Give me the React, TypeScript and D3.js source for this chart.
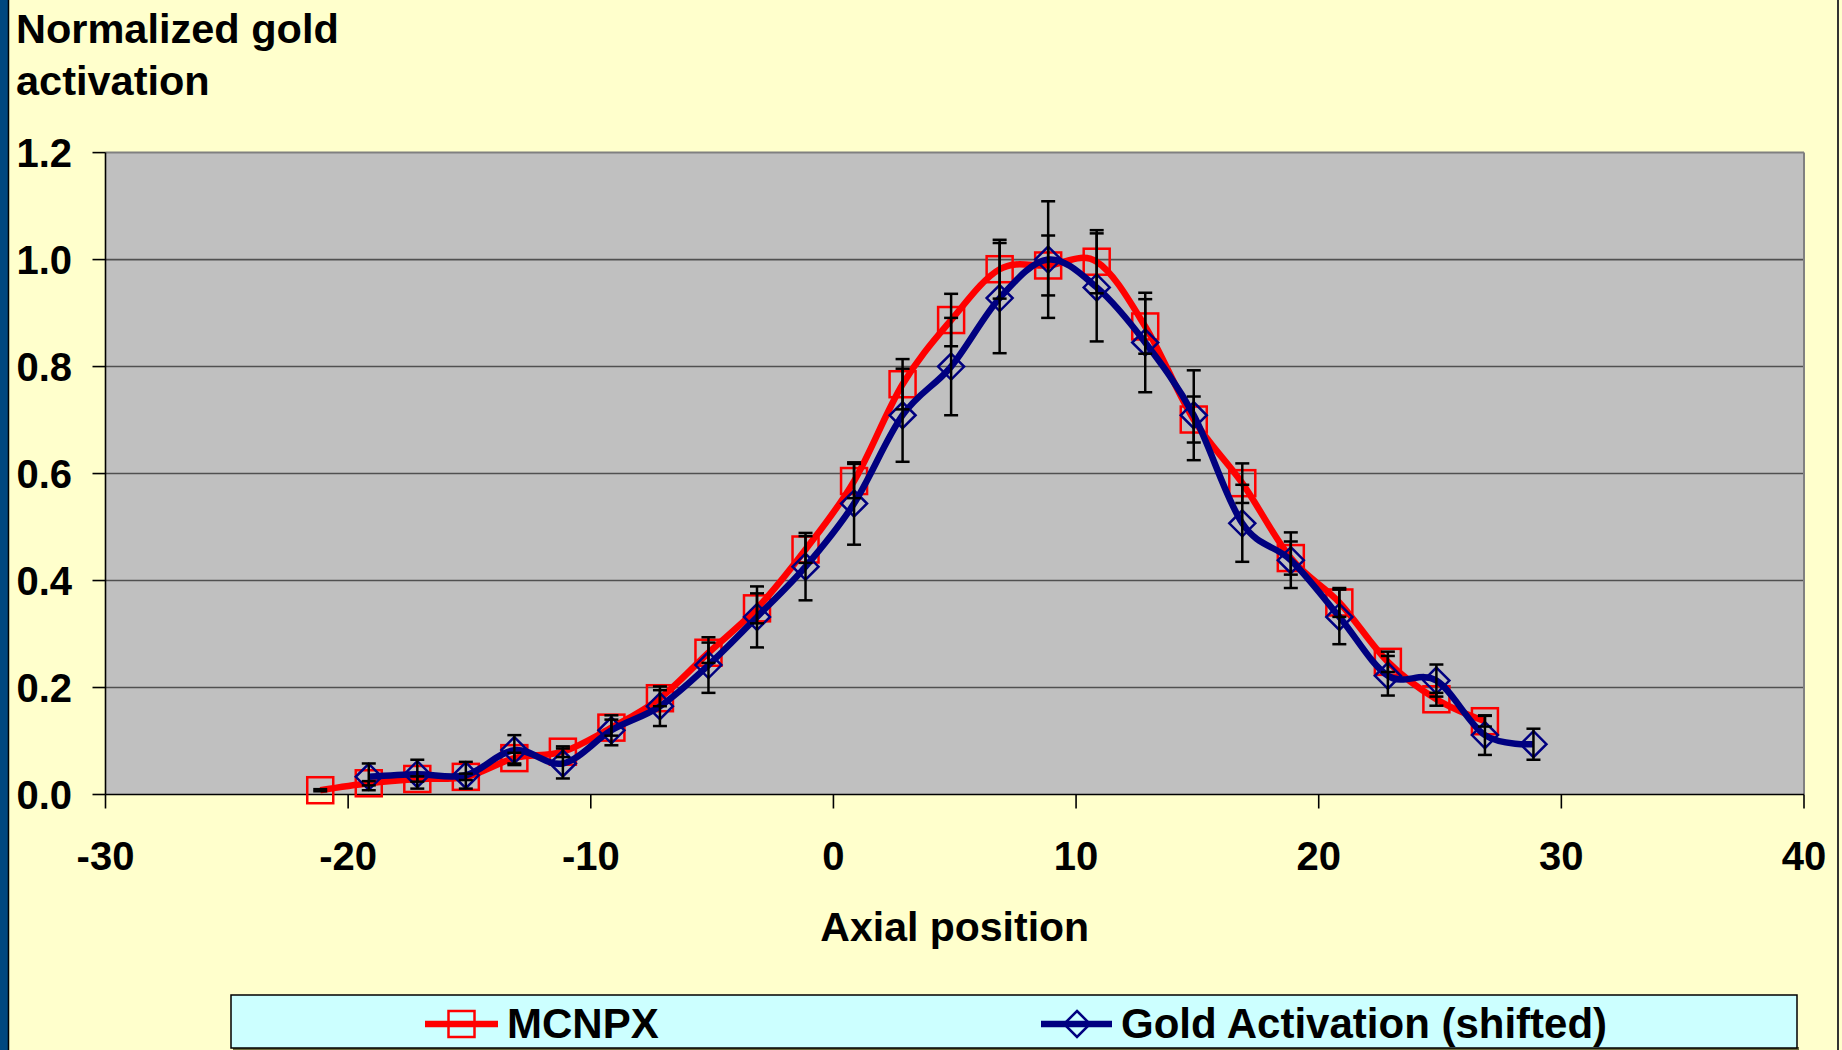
import React from 'react';
import * as d3 from 'd3';

const mcnpxX = [-21.15, -19.15, -17.15, -15.15, -13.15, -11.15, -9.15, -7.15, -5.15, -3.15, -1.15, 0.85, 2.85, 4.85, 6.85, 8.85, 10.85, 12.85, 14.85, 16.85, 18.85, 20.85, 22.85, 24.85, 26.85];
const mcnpxY = [0.008, 0.021, 0.029, 0.033, 0.068, 0.08, 0.125, 0.18, 0.265, 0.348, 0.458, 0.586, 0.767, 0.887, 0.982, 0.989, 0.996, 0.875, 0.701, 0.582, 0.442, 0.359, 0.248, 0.178, 0.137];
const mcnpxErr = [0.002, 0.004, 0.005, 0.006, 0.01, 0.01, 0.015, 0.015, 0.019, 0.028, 0.025, 0.032, 0.047, 0.049, 0.055, 0.056, 0.059, 0.051, 0.043, 0.037, 0.031, 0.027, 0.019, 0.012, 0.01];

const goldX = [-19.15, -17.15, -15.15, -13.15, -11.15, -9.15, -7.15, -5.15, -3.15, -1.15, 0.85, 2.85, 4.85, 6.85, 8.85, 10.85, 12.85, 14.85, 16.85, 18.85, 20.85, 22.85, 24.85, 26.85, 28.85];
const goldY = [0.033, 0.038, 0.036, 0.083, 0.058, 0.12, 0.165, 0.242, 0.332, 0.426, 0.544, 0.709, 0.8, 0.928, 1.0, 0.948, 0.845, 0.709, 0.507, 0.438, 0.332, 0.222, 0.213, 0.111, 0.094];
const goldErr = [0.025, 0.027, 0.025, 0.028, 0.028, 0.028, 0.037, 0.052, 0.057, 0.063, 0.077, 0.087, 0.091, 0.103, 0.109, 0.101, 0.093, 0.084, 0.072, 0.052, 0.051, 0.037, 0.03, 0.037, 0.029];

const xTicks = [-30, -20, -10, 0, 10, 20, 30, 40];
const yTicks = [0, 0.2, 0.4, 0.6, 0.8, 1.0, 1.2];

const seriesNames = ['MCNPX', 'Gold Activation (shifted)'];
const yTitleLines = ['Normalized gold', 'activation'];
const xTitle = 'Axial position';

const FONT = '"Liberation Sans", Arial, Helvetica, sans-serif';

export default function App() {
  React.useEffect(() => {
    document.body.style.margin = '0';
  }, []);

  const W = 1842;
  const H = 1050;
  const left = 105.5;
  const right = 1804;
  const top = 152.6;
  const bottom = 794.5;

  const x = d3.scaleLinear().domain([-30, 40]).range([left, right]);
  const y = d3.scaleLinear().domain([0, 1.2]).range([bottom, top]);

  const line = d3
    .line<[number, number]>()
    .x((d) => x(d[0]))
    .y((d) => y(d[1]))
    .curve(d3.curveCatmullRom.alpha(0));

  const redPts: [number, number][] = mcnpxX.map((v, i) => [v, mcnpxY[i]]);
  const bluePts: [number, number][] = goldX.map((v, i) => [v, goldY[i]]);

  const sq = 26;
  const dm = 13;

  const square = (cx: number, cy: number, key: string) => (
    <rect key={key} x={cx - sq / 2} y={cy - sq / 2} width={sq} height={sq} fill="none" stroke="#FF0000" strokeWidth={2.5} />
  );
  const diamond = (cx: number, cy: number, key: string) => (
    <path
      key={key}
      d={`M${cx},${cy - dm}L${cx + dm},${cy}L${cx},${cy + dm}L${cx - dm},${cy}Z`}
      fill="none"
      stroke="#000080"
      strokeWidth={2.5}
    />
  );

  const errBar = (xv: number, yv: number, e: number, key: string) => {
    const cx = x(xv);
    const y1 = y(yv + e);
    const y2 = y(yv - e);
    return (
      <g key={key} stroke="#000" strokeWidth={2.5}>
        <line x1={cx} x2={cx} y1={y1} y2={y2} />
        <line x1={cx - 7} x2={cx + 7} y1={y1} y2={y1} />
        <line x1={cx - 7} x2={cx + 7} y1={y2} y2={y2} />
      </g>
    );
  };

  return (
    <svg
      width={W}
      height={H}
      style={{ position: 'absolute', left: 0, top: 0, display: 'block' }}
      fontFamily={FONT}
    >
      <rect x={0} y={0} width={W} height={H} fill="#FFFFCC" />
      <rect x={0} y={0} width={8} height={H} fill="#00477F" />
      <line x1={8.5} x2={8.5} y1={0} y2={H} stroke="#000" strokeWidth={1.5} />
      <line x1={1838} x2={1838} y1={0} y2={H} stroke="#333" strokeWidth={2} />

      {/* Y title */}
      {yTitleLines.map((t, i) => (
        <text key={t} x={16} y={42.5 + i * 52} fontSize={41.5} fontWeight="bold" fill="#000">
          {t}
        </text>
      ))}

      {/* plot area */}
      <rect x={left} y={top} width={right - left} height={bottom - top} fill="#C0C0C0" />
      {yTicks
        .filter((t) => t > 0 && t < 1.2)
        .map((t) => (
          <line key={t} x1={left} x2={right} y1={y(t)} y2={y(t)} stroke="#505050" strokeWidth={1.6} />
        ))}
      <line x1={left} x2={right} y1={top} y2={top} stroke="#808080" strokeWidth={2} />
      <line x1={right} x2={right} y1={top} y2={bottom} stroke="#808080" strokeWidth={2} />
      <line x1={left} x2={left} y1={top} y2={bottom} stroke="#000" strokeWidth={1.6} />
      <line x1={left} x2={right} y1={bottom} y2={bottom} stroke="#000" strokeWidth={1.6} />

      {/* ticks */}
      {yTicks.map((t) => (
        <g key={'yt' + t}>
          <line x1={left - 13} x2={left} y1={y(t)} y2={y(t)} stroke="#000" strokeWidth={1.6} />
          <text x={72} y={y(t) + 14} textAnchor="end" fontSize={40} fontWeight="bold" fill="#000">
            {t.toFixed(1)}
          </text>
        </g>
      ))}
      {xTicks.map((t) => (
        <g key={'xt' + t}>
          <line x1={x(t)} x2={x(t)} y1={bottom} y2={bottom + 14} stroke="#000" strokeWidth={1.6} />
          <text x={x(t)} y={870} textAnchor="middle" fontSize={40} fontWeight="bold" fill="#000">
            {t}
          </text>
        </g>
      ))}

      <text x={(left + right) / 2} y={941} textAnchor="middle" fontSize={41} fontWeight="bold" fill="#000">
        {xTitle}
      </text>

      {/* series */}
      <path d={line(redPts) || ''} fill="none" stroke="#FF0000" strokeWidth={6.5} strokeLinejoin="round" />
      {redPts.map((p, i) => square(x(p[0]), y(p[1]), 'r' + i))}
      <path d={line(bluePts) || ''} fill="none" stroke="#000080" strokeWidth={6.5} strokeLinejoin="round" />
      {bluePts.map((p, i) => diamond(x(p[0]), y(p[1]), 'b' + i))}

      {mcnpxX.map((v, i) => errBar(v, mcnpxY[i], mcnpxErr[i], 're' + i))}
      {goldX.map((v, i) => errBar(v, goldY[i], goldErr[i], 'be' + i))}

      {/* legend */}
      <rect x={233} y={1047} width={1566} height={3} fill="#6B6B3A" />
      <rect x={231} y={995} width={1566} height={53} fill="#CCFFFF" stroke="#000" strokeWidth={1.5} />
      <line x1={425} x2={498} y1={1024} y2={1024} stroke="#FF0000" strokeWidth={6.5} />
      {square(461.5, 1024, 'ls')}
      <text x={507} y={1038} fontSize={42} fontWeight="bold" fill="#000">
        {seriesNames[0]}
      </text>
      <line x1={1041} x2={1112} y1={1024} y2={1024} stroke="#000080" strokeWidth={6.5} />
      {diamond(1077, 1024, 'ld')}
      <text x={1121} y={1038} fontSize={42} fontWeight="bold" fill="#000">
        {seriesNames[1]}
      </text>
    </svg>
  );
}
